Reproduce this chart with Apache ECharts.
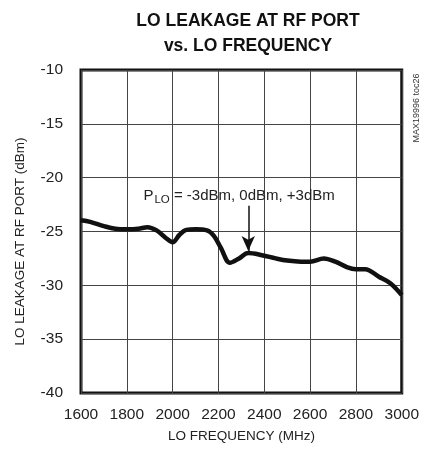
<!DOCTYPE html>
<html>
<head>
<meta charset="utf-8">
<script src="https://cdn.jsdelivr.net/npm/echarts@6/dist/echarts.min.js"></script>
<style>
html,body{margin:0;padding:0;background:#fff;}
#chart{width:422px;height:452px;}
</style>
</head>
<body>
<div id="chart"></div>
<script>
// ---- data ----
var freqMHz = [1600,1640,1700,1750,1800,1850,1890,1930,1970,2000,2030,2060,2100,2150,2180,2210,2250,2290,2330,2390,2450,2500,2560,2600,2660,2710,2760,2800,2840,2900,2950,3000];
var leakageDbm = [-23.95,-24.1,-24.5,-24.75,-24.8,-24.75,-24.6,-24.9,-25.6,-26.0,-25.3,-24.85,-24.8,-24.9,-25.4,-26.5,-27.9,-27.5,-27.0,-27.2,-27.5,-27.7,-27.8,-27.8,-27.5,-27.8,-28.3,-28.5,-28.5,-29.2,-29.8,-30.9];
var xTicks = [1600,1800,2000,2200,2400,2600,2800,3000];
var yTicks = [-40,-35,-30,-25,-20,-15,-10];
var arrowFreq = 2330;
var arrowFrom = -22.6;
var arrowTo = -26.8;
var noteAt = [2290, -21.7];
var noteMain = 'P';
var noteSub = 'LO';
var noteRest = ' = -3dBm, 0dBm, +3dBm';

var FONT = "'Liberation Sans',Arial,sans-serif";
var chart = echarts.init(document.getElementById('chart'), null, {renderer:'canvas'});
var pairs = freqMHz.map(function(f,i){return [f, leakageDbm[i]];});

chart.setOption({
  animation:false,
  backgroundColor:'#fff',
  title:{
    text:'LO LEAKAGE AT RF PORT\nvs. LO FREQUENCY',
    left:243, top:4, textAlign:'center',
    textStyle:{fontFamily:FONT, fontWeight:'bold', fontSize:17.5, color:'#111', lineHeight:25}
  },
  grid:{left:81, right:15, top:70, bottom:59, show:true, borderWidth:3, borderColor:'#111', backgroundColor:'transparent'},
  xAxis:{
    type:'value', min:xTicks[0], max:xTicks[xTicks.length-1], interval:200,
    name:'LO FREQUENCY (MHz)', nameLocation:'middle', nameGap:36,
    nameTextStyle:{fontFamily:FONT, fontSize:13.5, color:'#222'},
    axisLine:{show:false}, axisTick:{show:false},
    axisLabel:{fontFamily:FONT, fontSize:15.5, color:'#222', margin:14, formatter:function(v){return String(v);}},
    splitLine:{show:true, lineStyle:{color:'#444', width:1}}
  },
  yAxis:{
    type:'value', min:yTicks[0], max:yTicks[yTicks.length-1], interval:5,
    name:'LO LEAKAGE AT RF PORT (dBm)', nameLocation:'middle', nameGap:54,
    nameTextStyle:{fontFamily:FONT, fontSize:13.5, color:'#222', padding:[0,20,0,0]},
    axisLine:{show:false}, axisTick:{show:false},
    axisLabel:{fontFamily:FONT, fontSize:15.5, color:'#222', margin:18, formatter:function(v){return String(v);}},
    splitLine:{show:true, lineStyle:{color:'#444', width:1}}
  },
  graphic:[{
    type:'text', x:417, y:108, rotation:Math.PI/2,
    style:{text:'MAX19996 toc26', fontFamily:FONT, fontSize:9, fill:'#333', align:'center', verticalAlign:'middle'}
  }],
  series:[{
    type:'line', data:pairs, smooth:0.35, showSymbol:false,
    lineStyle:{color:'#111', width:4.5},
    markLine:{
      silent:true, symbol:['none','arrow'], symbolSize:[10,15],
      lineStyle:{color:'#111', width:1.5, type:'solid'},
      label:{show:false},
      data:[[{coord:[arrowFreq, arrowFrom]},{coord:[arrowFreq, arrowTo]}]]
    },
    markPoint:{
      silent:true, symbol:'circle', symbolSize:0,
      label:{
        show:true, position:'inside',
        formatter:'{p|'+noteMain+'}{s|'+noteSub+'}{p|'+noteRest+'}',
        rich:{
          p:{fontFamily:FONT, fontSize:15, color:'#222'},
          s:{fontFamily:FONT, fontSize:11.5, color:'#222', padding:[8,0,0,1]}
        }
      },
      data:[{coord:noteAt}]
    }
  }]
});
</script>
</body>
</html>
